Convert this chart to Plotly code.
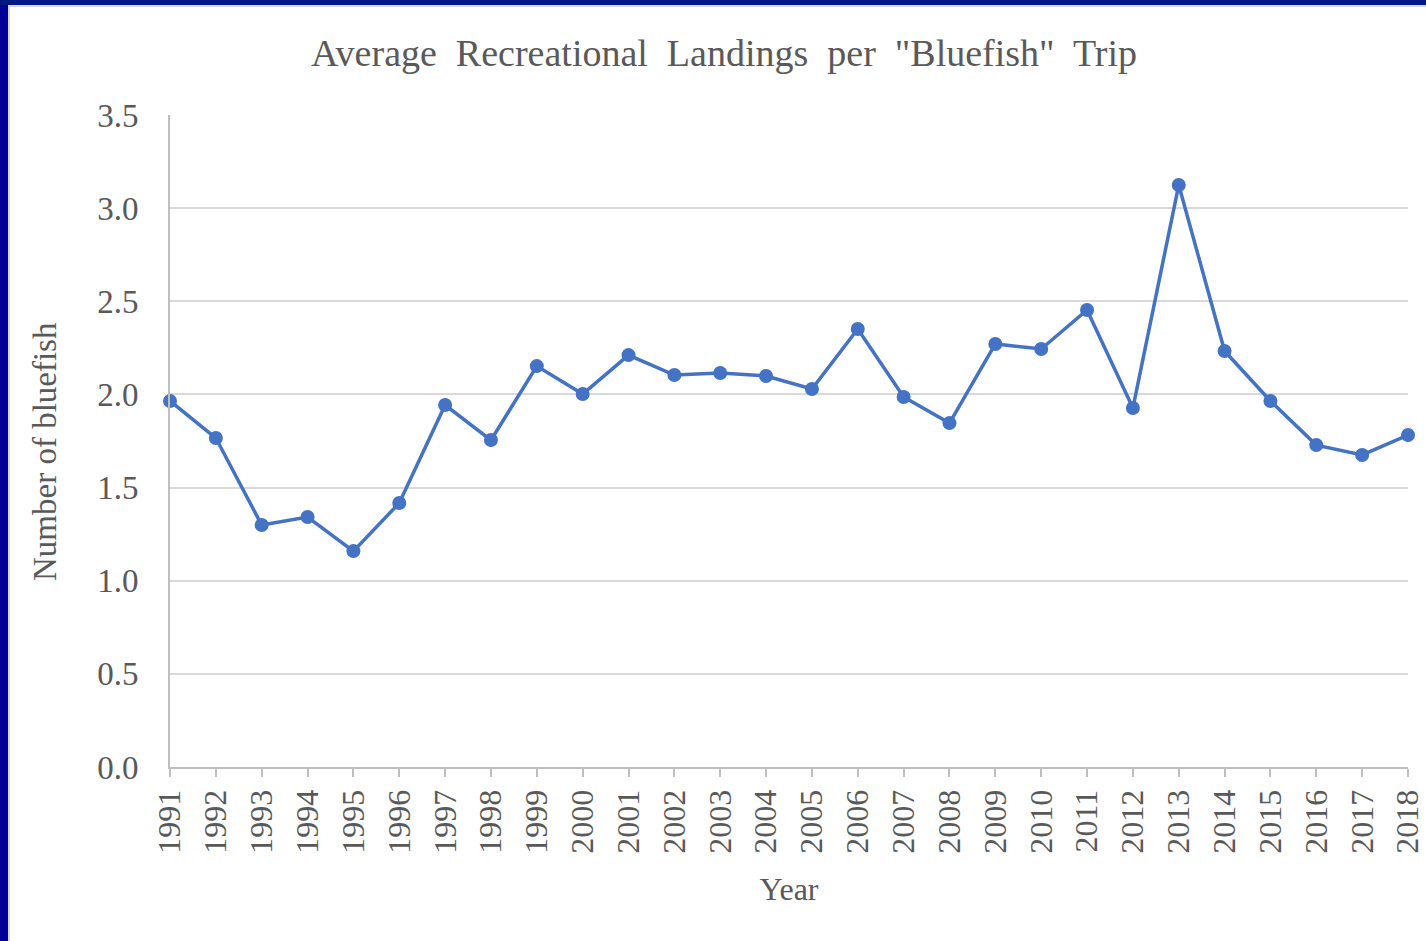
import plotly.graph_objects as go

years = [str(y) for y in range(1991, 2019)]
values = [1.965, 1.766, 1.299, 1.342, 1.159, 1.417, 1.943, 1.755, 2.152, 2.002,
          2.211, 2.104, 2.115, 2.099, 2.029, 2.351, 1.986, 1.846, 2.271, 2.244,
          2.453, 1.927, 3.124, 2.233, 1.965, 1.728, 1.675, 1.782]
y_ticks = [0.0, 0.5, 1.0, 1.5, 2.0, 2.5, 3.0, 3.5]

W, H = 1426, 941
L, R, T, B = 170, 18, 115, 174
pw, ph = W - L - R, H - T - B

fig = go.Figure()
fig.add_trace(go.Scatter(
    x=list(range(len(years))), y=values, mode="lines+markers",
    line=dict(color="#4472C4", width=3.5),
    marker=dict(color="#4472C4", size=14),
    cliponaxis=False, showlegend=False,
))

font = "Liberation Serif, Times New Roman, serif"
grey = "#595959"

def px_x(p):
    return (p - L) / pw

def px_y(p):
    return (H - B - p) / ph

shapes = [
    dict(type="rect", xref="paper", yref="paper", x0=px_x(-2), x1=px_x(8), y0=px_y(H + 2), y1=px_y(-2),
         fillcolor="#000099", line=dict(width=0), layer="above"),
    dict(type="rect", xref="paper", yref="paper", x0=px_x(-2), x1=px_x(W + 2), y0=px_y(5), y1=px_y(-2),
         fillcolor="#001a80", line=dict(width=0), layer="above"),
    dict(type="line", xref="paper", yref="paper", x0=px_x(9), x1=px_x(9), y0=px_y(5), y1=px_y(H + 2),
         line=dict(color="#d9d9d9", width=2)),
    dict(type="line", xref="paper", yref="paper", x0=px_x(8), x1=px_x(W + 2), y0=px_y(6), y1=px_y(6),
         line=dict(color="#d9d9d9", width=2)),
]

fig.update_layout(
    width=W, height=H,
    margin=dict(l=L, r=R, t=T, b=B, autoexpand=False),
    paper_bgcolor="white", plot_bgcolor="white",
    font=dict(family=font, color=grey),
    title=dict(text="Average\u00a0 Recreational\u00a0 Landings\u00a0 per\u00a0 \"Bluefish\"\u00a0 Trip",
               x=724 / W, xanchor="center", y=1 - 53 / H, yanchor="middle",
               font=dict(size=38, color=grey, family=font)),
    xaxis=dict(
        range=[0, len(years) - 1], tickmode="array",
        tickvals=list(range(len(years))), ticktext=years, tickangle=-90,
        tickfont=dict(size=32, color=grey), ticks="outside", ticklen=8, tickcolor="#bfbfbf", tickwidth=2,
        showline=True, linecolor="#bfbfbf", linewidth=2, showgrid=False, zeroline=False,
        title=dict(text="Year", font=dict(size=32, color=grey), standoff=25),
        fixedrange=True,
    ),
    yaxis=dict(
        range=[0, 3.5], tickmode="array", tickvals=y_ticks,
        ticktext=[f"{v:.1f}" for v in y_ticks],
        tickfont=dict(size=33, color=grey), ticks="", ticklabelstandoff=23,
        showline=True, linecolor="#bfbfbf", linewidth=2,
        showgrid=True, gridcolor="#d9d9d9", gridwidth=2, zeroline=False,
        fixedrange=True,
    ),
    annotations=[dict(text="Number of bluefish", textangle=-90, showarrow=False,
                      xref="paper", yref="paper", x=px_x(45), y=px_y(452),
                      xanchor="center", yanchor="middle",
                      font=dict(size=33, color=grey, family=font))],
    shapes=shapes,
)

fig.write_html("out.html", config={"displayModeBar": False},
               post_script="document.body.style.margin='0';document.body.style.overflow='hidden';")
